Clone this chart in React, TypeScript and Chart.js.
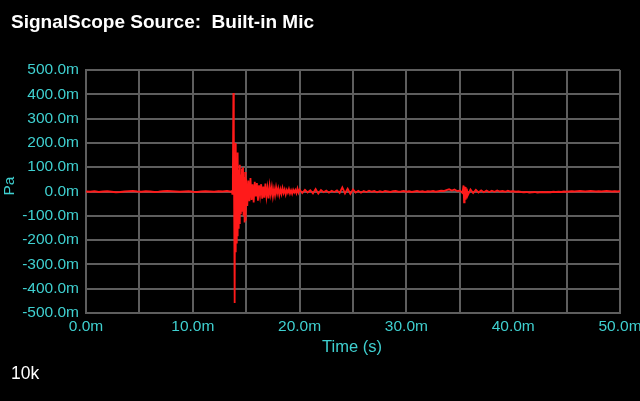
import React, { useEffect, useRef } from "react";
import { Chart, registerables } from "chart.js";

Chart.register(...registerables);

// [time in ms, pressure in mPa]
const quietBefore: [number, number][] = [
  [0, 0], [0.4, -1], [0.8, 1], [1.2, -2], [1.6, 0], [2.0, 1], [2.4, -1], [2.8, -3], [3.2, -2],
  [3.6, 0], [4.0, 1], [4.4, 2], [4.8, 0], [5.2, -1], [5.6, 1], [6.0, 0], [6.4, -2], [6.8, -1],
  [7.2, 1], [7.6, 2], [8.0, 1], [8.4, 0], [8.8, -1], [9.2, 0], [9.6, 1], [10.0, -1], [10.4, -2],
  [10.8, 0], [11.2, 1], [11.6, 0], [12.0, -1], [12.4, 1], [12.8, 0], [13.2, 2], [13.6, -1],
];

const impulse: [number, number][] = [
  [13.65, 5], [13.7, -10], [13.75, 60], [13.8, 405], [13.84, 250], [13.88, -120], [13.92, -459],
  [13.96, 150], [14.0, -250], [14.04, 200], [14.08, -210], [14.12, 120], [14.16, -180],
  [14.2, 160], [14.25, -150], [14.3, 90], [14.35, -130], [14.4, 110], [14.45, -90], [14.5, 70],
  [14.55, -60], [14.6, 95], [14.65, -80], [14.7, 100], [14.75, -100], [14.8, 60], [14.85, -128],
  [14.9, 80], [14.95, -120], [15.0, 50],
];

const decay: [number, number][] = [
  [15.1, -60], [15.2, 45], [15.3, -40], [15.4, 55], [15.5, -35], [15.6, 30], [15.7, -45],
  [15.8, 40], [15.9, -20], [16.0, 35], [16.1, -38], [16.2, 25], [16.3, -15], [16.4, 30],
  [16.5, -30], [16.6, 20], [16.7, -25], [16.8, 33], [16.9, -20], [17.0, 15], [17.1, -28],
  [17.2, 22], [17.3, -12], [17.4, 18], [17.5, -20], [17.6, 10], [17.7, -15], [17.8, 17],
  [17.9, -8], [18.0, 12], [18.1, -14], [18.2, 9], [18.3, -10], [18.4, 14], [18.5, -6],
  [18.6, 8], [18.7, -12], [18.8, 6], [18.9, -5], [19.0, 10], [19.1, -8], [19.2, 5], [19.3, -9],
  [19.4, 7], [19.5, -4], [19.6, 6], [19.7, -7], [19.8, 12], [19.9, -5], [20.0, 8],
];

const tail: [number, number][] = [
  [20.25, -6], [20.5, 7], [20.75, -4], [21, 5], [21.25, -8], [21.5, 10], [21.75, -9], [22, 6],
  [22.25, -3], [22.5, 4], [22.75, -5], [23, 3], [23.25, -2], [23.5, 5], [23.75, -6], [24, 17],
  [24.25, -8], [24.5, 12], [24.75, -10], [25, 8], [25.25, -4], [25.5, 3], [25.75, -5], [26, 2],
  [26.25, -2], [26.5, 3], [26.75, -1], [27, 2], [27.25, -3], [27.5, 1], [27.75, -2], [28, 2],
  [28.25, 0], [28.5, -2], [28.75, 1], [29, 2], [29.25, -1], [29.5, 0], [29.75, 2], [30, -1],
  [30.25, 1], [30.5, -2], [30.75, 0], [31, 2], [31.25, -1], [31.5, 1], [31.75, -2], [32, 1],
  [32.25, 0], [32.5, 2], [32.75, -1], [33, 1], [33.25, 3], [33.5, 2], [33.75, 6], [34, 9],
  [34.25, 4], [34.5, 8], [34.75, 2], [35, 4], [35.25, -6], [35.35, 25], [35.4, -45], [35.45, 20],
  [35.5, -30], [35.55, 18], [35.6, -25], [35.65, 12], [35.75, -15], [36, 8], [36.25, -6],
  [36.5, 7], [36.75, -4], [37, 5], [37.25, -3], [37.5, 4], [37.75, -2], [38, 3], [38.25, -1],
  [38.5, 4], [38.75, 0], [39, 2], [39.25, -1], [39.5, 3], [39.75, 0], [40, 1], [40.25, -1],
  [40.5, 0], [40.75, -2], [41, -3], [41.25, -2], [41.5, -4], [41.75, -3], [42, -2], [42.25, -4],
  [42.5, -3], [42.75, -2], [43, -3], [43.25, -2], [43.5, -3], [43.75, -1], [44, -2], [44.25, -1],
  [44.5, -2], [44.75, 0], [45, -1], [45.25, 0], [45.5, 1], [45.75, 0], [46, 1], [46.25, 2],
  [46.5, 1], [46.75, 0], [47, 1], [47.25, 2], [47.5, 1], [47.75, 0], [48, 1], [48.25, 0],
  [48.5, 1], [48.75, 2], [49, 1], [49.25, 0], [49.5, 1], [49.75, 0], [50, 1],
];

const TITLE = "SignalScope Source:  Built-in Mic";
const X_TITLE = "Time (s)";
const Y_TITLE = "Pa";
const FOOTER = "10k";

const CYAN = "#3fd0d0";
const GRID = "#5e5e5e";
const FONT = '"Liberation Sans", Arial, Helvetica, sans-serif';

export default function App() {
  const ref = useRef<HTMLCanvasElement | null>(null);

  useEffect(() => {
    document.body.style.margin = "0";
    document.body.style.background = "#000";
    if (!ref.current) return;
    const points = [...quietBefore, ...impulse, ...decay, ...tail].map(([x, y]) => ({ x, y }));
    const chart = new Chart(ref.current, {
      type: "line",
      data: {
        datasets: [
          {
            data: points,
            borderColor: "#ff1a1a",
            borderWidth: 1.8,
            pointRadius: 0,
            tension: 0,
            fill: false,
          },
        ],
      },
      options: {
        animation: false,
        responsive: false,
        maintainAspectRatio: false,
        layout: { padding: { top: 70, right: 20, left: 0, bottom: 0 } },
        plugins: { legend: { display: false }, tooltip: { enabled: false } },
        scales: {
          x: {
            type: "linear",
            min: 0,
            max: 50,
            grid: { color: GRID, lineWidth: 2, drawTicks: false },
            border: { color: GRID, width: 2 },
            ticks: {
              stepSize: 5,
              autoSkip: false,
              maxRotation: 0,
              padding: 4,
              color: CYAN,
              font: { family: FONT, size: 15.5 },
              callback: (v: any) => (Number(v) % 10 === 0 ? `${Number(v).toFixed(1)}m` : ""),
            },
            afterFit: (s: any) => {
              s.height = 88;
              s.paddingLeft = 0;
              s.paddingRight = 0;
            },
          },
          y: {
            min: -500,
            max: 500,
            grid: { color: GRID, lineWidth: 2, drawTicks: false },
            border: { color: GRID, width: 2 },
            ticks: {
              stepSize: 100,
              padding: 7,
              color: CYAN,
              font: { family: FONT, size: 15.5 },
              callback: (v: any) => `${Number(v).toFixed(1)}m`,
            },
            afterFit: (s: any) => {
              s.width = 86;
            },
          },
        },
      },
    });
    return () => chart.destroy();
  }, []);

  return (
    <div style={{ position: "relative", width: 640, height: 401, background: "#000", overflow: "hidden", fontFamily: FONT }}>
      <canvas ref={ref} width={640} height={401} style={{ position: "absolute", left: 0, top: 0 }} />
      <div style={{ position: "absolute", left: 11, top: 12, color: "#fff", fontSize: 19, lineHeight: "19px", fontWeight: "bold", whiteSpace: "pre" }}>
        {TITLE}
      </div>
      <div style={{ position: "absolute", left: 352, top: 338, transform: "translateX(-50%)", color: CYAN, fontSize: 16.5, lineHeight: "16.5px", whiteSpace: "pre" }}>
        {X_TITLE}
      </div>
      <div style={{ position: "absolute", left: 9, top: 186, transform: "translate(-50%, -50%) rotate(-90deg)", color: CYAN, fontSize: 15.5, lineHeight: "15.5px" }}>
        {Y_TITLE}
      </div>
      <div style={{ position: "absolute", left: 11, top: 365, color: "#fff", fontSize: 17.5, lineHeight: "17.5px" }}>
        {FOOTER}
      </div>
    </div>
  );
}
